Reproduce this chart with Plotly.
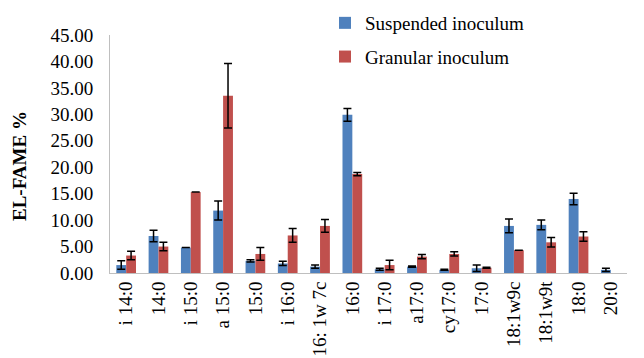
import plotly.graph_objects as go

categories = ["i 14:0", "14:0", "i 15:0", "a 15:0", "15:0", "i 16:0", "16: 1w 7c", "16:0",
              "i 17:0", "a17:0", "cy17:0", "17:0", "18:1w9c", "18:1w9t", "18:0", "20:0"]
suspended = [1.5, 7.0, 4.8, 11.8, 2.3, 1.8, 1.2, 29.9, 0.7, 1.2, 0.6, 0.9, 8.9, 9.1, 14.0, 0.6]
suspended_err = [0.8, 1.1, 0.0, 1.8, 0.2, 0.4, 0.3, 1.2, 0.2, 0.1, 0.1, 0.6, 1.3, 0.9, 1.1, 0.3]
granular = [3.3, 5.0, 15.3, 33.5, 3.6, 7.1, 8.9, 18.7, 1.5, 3.1, 3.6, 1.0, 4.3, 5.8, 6.9, None]
granular_err = [0.8, 0.8, 0.0, 6.1, 1.2, 1.3, 1.2, 0.3, 0.9, 0.4, 0.4, 0.1, 0.0, 0.9, 0.9, None]
y_ticks = [0, 5, 10, 15, 20, 25, 30, 35, 40, 45]

FONT = "Times New Roman"
PLOT_H = 273  # paper height in px (margin t=0, b=85)

fig = go.Figure()
fig.add_trace(go.Bar(
    x=categories, y=suspended, name="Suspended inoculum", legendgroup="s",
    marker=dict(color="#4F81BD", line=dict(width=0)),
    error_y=dict(type="data", array=suspended_err, color="black", thickness=1.5, width=4),
))
fig.add_trace(go.Bar(
    x=categories, y=granular, name="Granular inoculum", legendgroup="g",
    marker=dict(color="#C0504D", line=dict(width=0)),
    error_y=dict(type="data", array=granular_err, color="black", thickness=1.5, width=4),
))

fig.update_layout(
    width=644, height=358,
    margin=dict(l=110, r=17, t=0, b=85),
    paper_bgcolor="white", plot_bgcolor="white",
    barmode="group", bargap=0.39, bargroupgap=0.0,
    font=dict(family=FONT, size=19, color="black"),
    showlegend=True,
    legend=dict(x=(325 - 110) / 517, y=(PLOT_H - 4) / PLOT_H, xanchor="left", yanchor="top",
                traceorder="grouped", tracegroupgap=6,
                font=dict(family=FONT, size=19, color="black"),
                bgcolor="rgba(0,0,0,0)"),
    xaxis=dict(type="category", tickangle=-90, showgrid=False, automargin=False,
               showline=True, linecolor="#BFBFBF", linewidth=1,
               ticks="", tickfont=dict(family=FONT, size=19),
               range=[-0.5, 15.5]),
    yaxis=dict(range=[0, 45], tickvals=y_ticks, automargin=False,
               domain=[0, (PLOT_H - 35) / PLOT_H],
               ticktext=[f"{v:.2f}" for v in y_ticks],
               showgrid=False, zeroline=False,
               showline=True, linecolor="#BFBFBF", linewidth=1,
               ticks="", ticklabelstandoff=12,
               tickfont=dict(family=FONT, size=19)),
    annotations=[dict(text="<b>EL-FAME %</b>", x=(19 - 110) / 517, y=(PLOT_H - 166) / PLOT_H,
                      xref="paper", yref="paper", xanchor="center", yanchor="middle",
                      showarrow=False, textangle=-90,
                      font=dict(family=FONT, size=19, color="black"))],
)

fig.write_html("out.html", config={"displayModeBar": False},
               post_script="document.body.style.margin='0';")
